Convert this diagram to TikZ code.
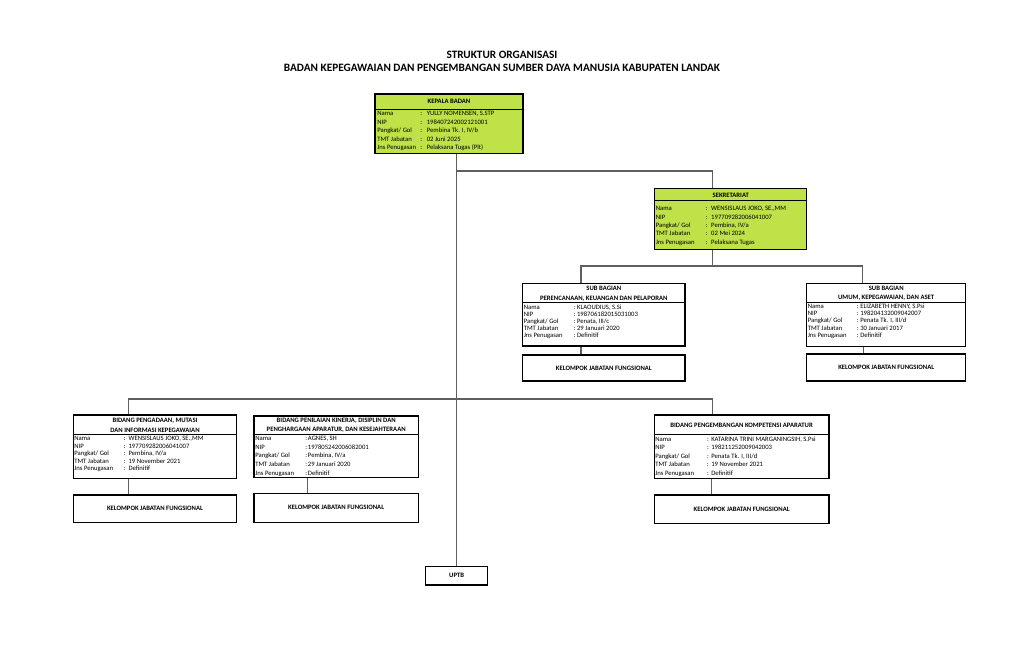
\documentclass[tikz,border=0pt]{standalone}
\usepackage{fontspec}
\setmainfont{Carlito}
\usetikzlibrary{fit}
\definecolor{limegreen}{RGB}{190,226,72}
\definecolor{connc}{RGB}{95,95,95}
\newcommand\infotab[8]{%
\fontsize{5}{#3}\selectfont
\begin{tabular}{@{}p{#1}@{}p{#2}@{}l@{}}
Nama & : & #4\\
NIP & : & #5\\
Pangkat/ Gol & : & #6\\
TMT Jabatan & : & #7\\
Jns Penugasan & : & #8
\end{tabular}}
\tikzset{
  box/.style={draw=black, line width=0.9pt, inner sep=0pt},
  greenbox/.style={box, fill=limegreen},
  hdr/.style={font=\fontsize{5}{6}\selectfont\bfseries, inner sep=0pt, text height=3.2pt, text depth=0pt, anchor=center},
  ttl/.style={font=\fontsize{8.45}{9}\selectfont\bfseries, inner sep=0pt, text height=5.4pt, text depth=0pt, anchor=center},
  info/.style={anchor=north west, inner sep=0pt},
  conn/.style={draw=connc, line width=0.8pt},
  sepline/.style={draw=black, line width=0.8pt},
}
\begin{document}
\begin{tikzpicture}[x=0.75pt, y=-0.75pt]
\useasboundingbox[fill=white] (0,0) rectangle (1024,667);

% title
\node[ttl] (t1) at (502,55) {STRUKTUR ORGANISASI};
\node[ttl] (t2) at (502,68) {BADAN KEPEGAWAIAN DAN PENGEMBANGAN SUMBER DAYA MANUSIA KABUPATEN LANDAK};

% boxes
\node[greenbox, fit={(375,94) (523,153.5)}] (k) {};
\node[greenbox, fit={(654.7,188.3) (806.7,249.3)}] (s) {};
\node[box, fit={(522.7,283.3) (685,346)}] (sb1) {};
\node[box, fit={(522.7,355) (685,381)}] (kf1) {};
\node[box, fit={(806.7,283.3) (965.7,346.7)}] (sb2) {};
\node[box, fit={(806.7,354) (965.7,381)}] (kf2) {};
\node[box, fit={(73.3,415) (236.7,478.3)}] (b1) {};
\node[box, fit={(73.3,495) (236.7,522.7)}] (kf3) {};
\node[box, fit={(254,416) (418.3,477.7)}] (b2) {};
\node[box, fit={(254,493.3) (418.3,522.3)}] (kf4) {};
\node[box, fit={(654.3,415) (829,478.3)}] (b3) {};
\node[box, fit={(654.3,495) (829,523.3)}] (kf5) {};
\node[box, fit={(425.7,566.7) (487.7,585)}] (uptb) {};

% header separators
\draw[sepline] (k.west |- 0,109.5) -- (k.east |- 0,109.5);
\draw[sepline] (s.west |- 0,200.7) -- (s.east |- 0,200.7);
\draw[sepline] (sb1.west |- 0,302.7) -- (sb1.east |- 0,302.7);
\draw[sepline] (sb2.west |- 0,302.3) -- (sb2.east |- 0,302.3);
\draw[sepline] (b1.west |- 0,434.3) -- (b1.east |- 0,434.3);
\draw[sepline] (b2.west |- 0,434.3) -- (b2.east |- 0,434.3);
\draw[sepline] (b3.west |- 0,434.3) -- (b3.east |- 0,434.3);

% headers
\node[hdr] (kh) at (449,101.7) {KEPALA BADAN};
\node[hdr] (sh) at (730.7,195) {SEKRETARIAT};
\node[hdr] (sb1h1) at (603.8,288.3) {SUB BAGIAN};
\node[hdr] (sb1h2) at (603.8,298.3) {PERENCANAAN, KEUANGAN DAN PELAPORAN};
\node[hdr] (sb2h1) at (886.2,288.3) {SUB BAGIAN};
\node[hdr] (sb2h2) at (886.2,297.7) {UMUM, KEPEGAWAIAN, DAN ASET};
\node[hdr] (b1h1) at (155,420.7) {BIDANG PENGADAAN, MUTASI};
\node[hdr] (b1h2) at (155,430) {DAN INFORMASI KEPEGAWAIAN};
\node[hdr] (b2h1) at (336.2,420) {BIDANG PENILAIAN KINERJA, DISIPLIN DAN};
\node[hdr] (b2h2) at (336.2,429.3) {PENGHARGAAN APARATUR, DAN KESEJAHTERAAN};
\node[hdr] (b3h) at (741.6,425) {BIDANG PENGEMBANGAN KOMPETENSI APARATUR};
\node[hdr] at (kf1.center) (kf1t) {KELOMPOK JABATAN FUNGSIONAL};
\node[hdr] at (kf2.center) (kf2t) {KELOMPOK JABATAN FUNGSIONAL};
\node[hdr] at (kf3.center) (kf3t) {KELOMPOK JABATAN FUNGSIONAL};
\node[hdr] at (kf4.center) (kf4t) {KELOMPOK JABATAN FUNGSIONAL};
\node[hdr] at (kf5.center) (kf5t) {KELOMPOK JABATAN FUNGSIONAL};
\node[hdr] at (uptb.center) (uptbt) {UPTB};

% info tables
\node[info] (ki) at (377,109.5) {\infotab{32.25pt}{4.9pt}{6.4pt}{YULLY NOMENSEN, S.STP}{198407242002121001}{Pembina Tk. I, IV/b}{02 Juni 2025}{Pelaksana Tugas (Plt)}};
\node[info] (si) at (655.5,204.5) {\infotab{37.6pt}{4pt}{6.3pt}{WENSISLAUS JOKO, SE.,MM}{197709282006041007}{Pembina, IV/a}{02 Mei 2024}{Pelaksana Tugas}};
\node[info] (sb1i) at (523.5,303.9) {\infotab{37.4pt}{2.6pt}{5.33pt}{KLAOUDIUS, S.Si}{198706182015031003}{Penata, III/c}{29 Januari 2020}{Definitif}};
\node[info] (sb2i) at (807.5,302.7) {\infotab{36.9pt}{2.5pt}{5.48pt}{ELIZABETH HENNY, S.Psi}{198204132009042007}{Penata Tk. I, III/d}{30 Januari 2017}{Definitif}};
\node[info] (b1i) at (74,435.2) {\infotab{37pt}{3.75pt}{5.63pt}{WENSISLAUS JOKO, SE.,MM}{197709282006041007}{Pembina, IV/a}{19 November 2021}{Definitif}};
\node[info] (b2i) at (255,434.4) {\infotab{37.5pt}{2pt}{6.45pt}{AGNES, SH}{197805242006082001}{Pembina, IV/a}{29 Januari 2020}{Definitif}};
\node[info] (b3i) at (655,435.25) {\infotab{38.8pt}{3.2pt}{6.3pt}{KATARINA TRINI MARGANINGSIH, S.Psi}{198211252009042003}{Penata Tk. I, III/d}{19 November 2021}{Definitif}};

% connectors
\coordinate (ja) at (456.7,171);
\coordinate (h2) at (712.7,266);
\coordinate (h3) at (456.7,399);
\draw[conn] (k.south -| uptb.north) -- (uptb.north);
\draw[conn] (ja) -| (s.north -| 712.7,0);
\draw[conn] (s.south -| h2) -- (h2);
\draw[conn] (sb1.north -| 581,0) |- (h2) -| (sb2.north -| 862.7,0);
\draw[conn] (b1.north -| 128.3,0) |- (h3) -| (b3.north -| 712.7,0);
\draw[conn] (sb1.south -| 581,0) -- (kf1.north -| 581,0);
\draw[conn] (sb2.south -| 863.3,0) -- (kf2.north -| 863.3,0);
\draw[conn] (b1.south -| 128.3,0) -- (kf3.north -| 128.3,0);
\draw[conn] (b2.south -| 307.7,0) -- (kf4.north -| 307.7,0);
\draw[conn] (b3.south -| 711.7,0) -- (kf5.north -| 711.7,0);
\end{tikzpicture}
\end{document}
